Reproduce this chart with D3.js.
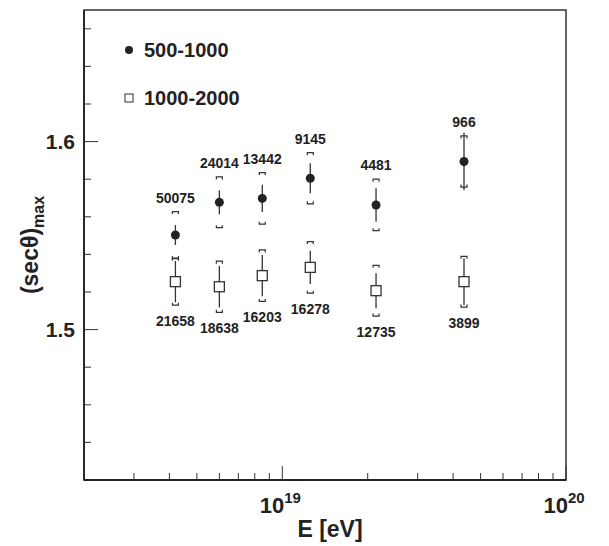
<!DOCTYPE html>
<html>
<head>
<meta charset="utf-8">
<script src="https://cdn.jsdelivr.net/npm/d3@7"></script>
<style>
  body { margin: 0; background: #fff; }
  text { font-family: "Liberation Sans", Arial, sans-serif; font-weight: bold; fill: #222; }
</style>
</head>
<body>
<script>
// energies (eV) of the bins
var energy = [4.2e18, 6.0e18, 8.5e18, 1.255e19, 2.14e19, 4.37e19];

// zenith range 500-1000
var lowVal = [1.5503, 1.5677, 1.5698, 1.5805, 1.5663, 1.5894];
var lowStat = [0.0053, 0.0064, 0.0073, 0.0080, 0.0089, 0.0153];
var lowSys = [0.0125, 0.0135, 0.0137, 0.0136, 0.0137, 0.0136];
var lowCount = ["50075", "24014", "13442", "9145", "4481", "966"];

// zenith range 1000-2000
var highVal = [1.5255, 1.5228, 1.5287, 1.5331, 1.5207, 1.5255];
var highStat = [0.0110, 0.0110, 0.0110, 0.0089, 0.0093, 0.0124];
var highSys = [0.0125, 0.0136, 0.0137, 0.0137, 0.0135, 0.0135];
var highCount = ["21658", "18638", "16203", "16278", "12735", "3899"];

var xMinor = [3e18, 4e18, 5e18, 6e18, 7e18, 8e18, 9e18, 2e19, 3e19, 4e19, 5e19, 6e19, 7e19, 8e19, 9e19];
var xMajor = [1e19, 1e20];
var yMajor = [1.5, 1.6];
var yMinor = [1.44, 1.46, 1.48, 1.52, 1.54, 1.56, 1.58, 1.62, 1.64, 1.66];

var W = 609, H = 546;
var pL = 84, pR = 566, pT = 10, pB = 480;

var svg = d3.select("body").append("svg").attr("width", W).attr("height", H);

var x = d3.scaleLog().domain([2e18, 1e20]).range([pL, pR]);
var y = d3.scaleLinear().domain([1.42, 1.67]).range([pB, pT]);

// frame
svg.append("rect").attr("x", pL).attr("y", pT)
  .attr("width", pR - pL).attr("height", pB - pT)
  .attr("fill", "none").attr("stroke", "#333").attr("stroke-width", 1.5);
svg.append("line").attr("x1", pL).attr("x2", pR).attr("y1", pB).attr("y2", pB)
  .attr("stroke", "#222").attr("stroke-width", 2.2);
svg.append("line").attr("x1", pL).attr("x2", pL).attr("y1", pT).attr("y2", pB)
  .attr("stroke", "#222").attr("stroke-width", 1.8);

// x ticks
svg.selectAll(".xmin").data(xMinor).enter().append("line")
  .attr("x1", d => x(d)).attr("x2", d => x(d)).attr("y1", pB).attr("y2", pB - 7)
  .attr("stroke", "#333");
svg.selectAll(".xmaj").data(xMajor).enter().append("line")
  .attr("x1", d => x(d)).attr("x2", d => x(d)).attr("y1", pB).attr("y2", pB - 14)
  .attr("stroke", "#333");
var xl = svg.selectAll(".xlab").data(xMajor).enter().append("text")
  .attr("x", d => x(d) - 2).attr("y", pB + 33)
  .attr("text-anchor", "middle").attr("font-size", 22);
xl.append("tspan").text("10");
xl.append("tspan").attr("dy", -10).attr("font-size", 15).text(d => Math.round(Math.log10(d)));

// y ticks
svg.selectAll(".ymin").data(yMinor).enter().append("line")
  .attr("x1", pL).attr("x2", pL + 7).attr("y1", d => y(d)).attr("y2", d => y(d))
  .attr("stroke", "#333");
svg.selectAll(".ymaj").data(yMajor).enter().append("line")
  .attr("x1", pL).attr("x2", pL + 14).attr("y1", d => y(d)).attr("y2", d => y(d))
  .attr("stroke", "#333");
svg.selectAll(".ylab").data(yMajor).enter().append("text")
  .attr("x", pL - 9).attr("y", d => y(d) + 7)
  .attr("text-anchor", "end").attr("font-size", 21).text(d => d.toFixed(1));

// axis titles
svg.append("text").attr("x", (pL + pR) / 2 + 5).attr("y", 537)
  .attr("text-anchor", "middle").attr("font-size", 23).text("E [eV]");
var yt = svg.append("text").attr("transform", "translate(38,245) rotate(-90)")
  .attr("text-anchor", "middle").attr("font-size", 23);
yt.append("tspan").text("(sec\u03B8)");
yt.append("tspan").attr("dy", 6).attr("font-size", 16).text("max");

function bracket(g, cx, cy, dir) {
  // dir: +1 end ticks point down (top bracket), -1 point up (bottom bracket)
  g.append("path")
    .attr("d", "M" + (cx - 3) + "," + (cy + 2.5 * dir) + "V" + cy + "H" + (cx + 3) + "V" + (cy + 2.5 * dir))
    .attr("fill", "none").attr("stroke", "#333").attr("stroke-width", 1.2);
}

function series(vals, stat, sys, counts, filled, labelAbove) {
  var g = svg.append("g");
  vals.forEach(function (v, i) {
    var cx = x(energy[i]);
    g.append("line").attr("x1", cx).attr("x2", cx)
      .attr("y1", y(v + stat[i])).attr("y2", y(v - stat[i]))
      .attr("stroke", "#333").attr("stroke-width", 1.3);
    var yTop = y(v + sys[i]), yBot = y(v - sys[i]);
    bracket(g, cx, yTop, 1);
    bracket(g, cx, yBot, -1);
    if (filled) {
      g.append("circle").attr("cx", cx).attr("cy", y(v)).attr("r", 4.5).attr("fill", "#222");
    } else {
      g.append("rect").attr("x", cx - 5).attr("y", y(v) - 5).attr("width", 10).attr("height", 10)
        .attr("fill", "#fff").attr("stroke", "#333").attr("stroke-width", 1.3);
    }
    g.append("text").attr("x", cx).attr("y", labelAbove ? yTop - 9 : yBot + 21)
      .attr("text-anchor", "middle").attr("font-size", 14).text(counts[i]);
  });
}
series(lowVal, lowStat, lowSys, lowCount, true, true);
series(highVal, highStat, highSys, highCount, false, false);

// legend
svg.append("circle").attr("cx", 129).attr("cy", 50).attr("r", 4).attr("fill", "#222");
svg.append("text").attr("x", 144).attr("y", 57).attr("font-size", 20).text("500-1000");
svg.append("rect").attr("x", 125).attr("y", 94).attr("width", 8).attr("height", 8)
  .attr("fill", "#fff").attr("stroke", "#333");
svg.append("text").attr("x", 144).attr("y", 105).attr("font-size", 20).text("1000-2000");
</script>
</body>
</html>
